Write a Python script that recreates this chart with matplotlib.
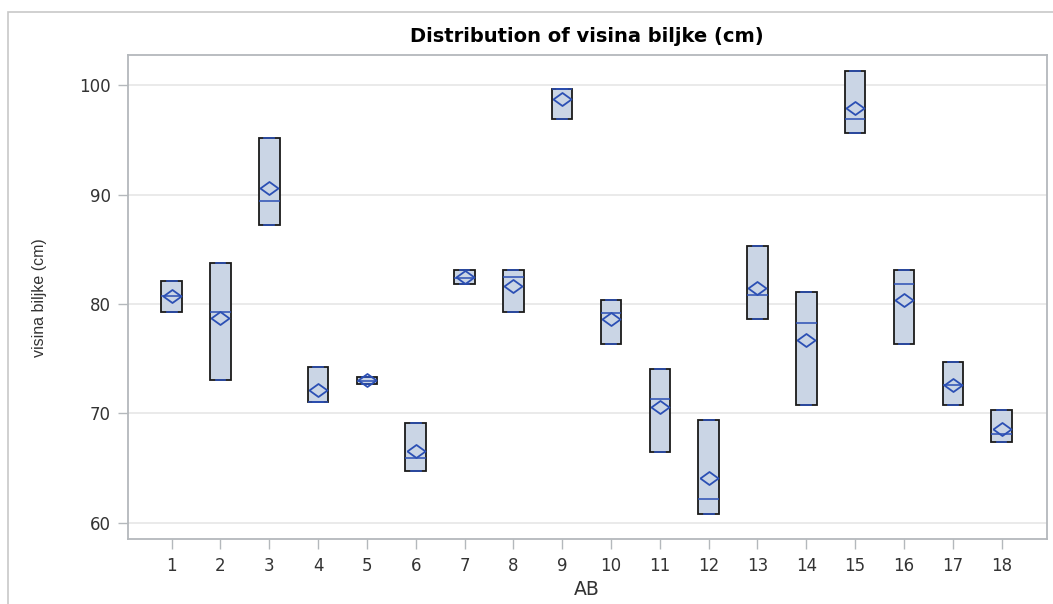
import matplotlib.pyplot as plt
from matplotlib.patches import Rectangle

# group labels on x axis
groups = list(range(1, 18 + 1))

# three plants per group: min, median, max, mean
mins = [79.3, 73.1, 87.2, 71.05, 72.7, 64.75, 81.8, 79.3, 96.9, 76.3, 66.5, 60.8, 78.6, 70.8, 95.6, 76.3, 70.75, 67.4]
medians = [80.7, 79.3, 89.4, 71.05, 73.0, 65.9, 82.4, 82.5, 99.6, 79.2, 71.3, 62.2, 80.8, 78.3, 96.9, 81.8, 72.6, 68.1]
maxs = [82.1, 83.7, 95.2, 74.2, 73.35, 69.1, 83.1, 83.1, 99.6, 80.4, 74.1, 69.4, 85.3, 81.1, 101.3, 83.1, 74.7, 70.3]
means = [80.7, 78.7, 90.6, 72.1, 73.05, 66.6, 82.45, 81.6, 98.7, 78.6, 70.6, 64.1, 81.5, 76.7, 97.9, 80.4, 72.6, 68.6]

yticks = [60, 70, 80, 90, 100]

blue = "#2b4fb4"
fill = "#cad5e5"

stats = []
for g, lo, med, hi, mu in zip(groups, mins, medians, maxs, means):
    stats.append({"label": str(g), "whislo": lo, "q1": lo, "med": med,
                  "q3": hi, "whishi": hi, "mean": mu, "fliers": []})

fig = plt.figure(figsize=(10.53, 6.04), dpi=100)
ax = fig.add_axes([127.7 / 1053, 1 - 539.3 / 604, (1046.5 - 127.7) / 1053, (539.3 - 55) / 604])

# outer frame around the whole graph
fig.patches.append(Rectangle((8 / 1053, -0.1), 1.2, (604 - 12) / 604 + 0.1,
                             transform=fig.transFigure, fill=False,
                             edgecolor="#c8c8c8", linewidth=1.2))

diamond = [(-1, 0), (0, 0.72), (1, 0), (0, -0.72), (-1, 0)]

ax.bxp(stats, positions=groups, widths=0.42, patch_artist=True,
       showfliers=False, showmeans=True, capwidths=0.2,
       boxprops=dict(facecolor=fill, edgecolor="#1a1a1a", linewidth=1.3),
       whiskerprops=dict(color=blue, linewidth=1),
       capprops=dict(color=blue, linewidth=1.2),
       medianprops=dict(color=blue, linewidth=1.1),
       meanprops=dict(marker=diamond, markersize=13, markerfacecolor="none",
                      markeredgecolor=blue, markeredgewidth=1.3),
       zorder=3)

ax.set_xlim(0.1, 18.92)
ax.set_ylim(58.5, 102.75)
ax.set_yticks(yticks)
ax.set_xticks(groups)
ax.set_xticklabels([str(g) for g in groups])

ax.grid(axis="y", color="#e6e6e6", linewidth=1.2, zorder=0)
ax.set_axisbelow(True)

for side in ["top", "right", "left", "bottom"]:
    ax.spines[side].set_color("#b4b8bc")
    ax.spines[side].set_linewidth(1.3)

ax.tick_params(axis="both", length=7, width=1, color="#b4b8bc",
               labelsize=12, labelcolor="#333333", pad=5)
ax.tick_params(axis="x", pad=6)

ax.set_xlabel("AB", fontsize=13.5, color="#333333", labelpad=3)
ax.set_ylabel("visina biljke (cm)", fontsize=11.5, family="Liberation Sans",
              color="#333333", labelpad=23)
ax.set_title("Distribution of visina biljke (cm)", fontsize=14,
             fontweight="bold", pad=9)

fig.savefig("out.png", dpi=100)
